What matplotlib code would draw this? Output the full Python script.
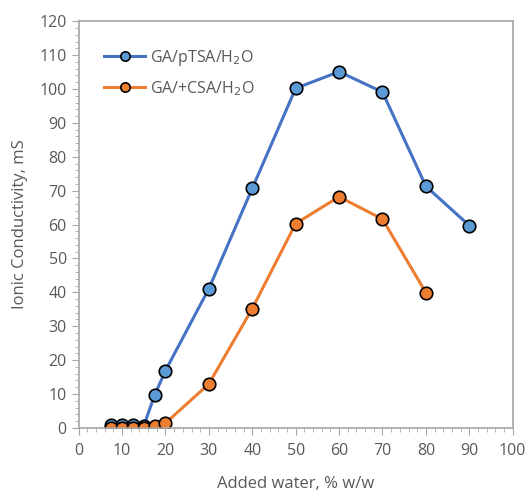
import matplotlib.pyplot as plt
from matplotlib.ticker import MultipleLocator

plt.rcParams['font.family'] = ['Open Sans', 'DejaVu Sans']

# data
water_ptsa = [7.5, 10, 12.5, 15, 17.5, 20, 30, 40, 50, 60, 70, 80, 90]
cond_ptsa = [0.8, 0.8, 0.9, 0.6, 9.7, 16.9, 41.1, 70.7, 100.2, 105.1, 99.1, 71.3, 59.7]

water_csa = [7.5, 10, 12.5, 15, 17.5, 20, 30, 40, 50, 60, 70, 80]
cond_csa = [0.1, 0.1, 0.1, 0.1, 0.6, 1.4, 13.0, 35.2, 60.3, 68.2, 61.6, 39.9]

xticks = list(range(0, 101, 10))
yticks = list(range(0, 121, 10))

txt = '#595959'
grey = '#a6a6a6'

fig = plt.figure(figsize=(5.28, 4.93), dpi=100)
ax = fig.add_axes([0.149, 0.132, 0.822, 0.825])

ax.plot(water_ptsa, cond_ptsa, '-o', color='#4472C4', lw=2.2,
        mfc='#5B9BD5', mec='black', mew=1.2, ms=9, label='GA/pTSA/H$_2$O')
ax.plot(water_csa, cond_csa, '-o', color='#ED7D31', lw=2.2,
        mfc='#ED7D31', mec='black', mew=1.2, ms=9, label='GA/+CSA/H$_2$O')

ax.set_xlim(0, 100)
ax.set_ylim(0, 120)
ax.set_xticks(xticks)
ax.set_yticks(yticks)
ax.xaxis.set_minor_locator(MultipleLocator(2))
ax.yaxis.set_minor_locator(MultipleLocator(2))
ax.tick_params(which='major', length=5, color=grey, labelcolor=txt, labelsize=11.5)
ax.tick_params(axis='x', which='major', pad=6)
ax.tick_params(which='minor', length=3, color=grey)
for s in ax.spines.values():
    s.set_color(grey)
    s.set_linewidth(1.2)

ax.set_xlabel('Added water, % w/w', color=txt, fontsize=12, labelpad=12)
ax.set_ylabel('Ionic Conductivity, mS', color=txt, fontsize=12, labelpad=8)

leg = ax.legend(loc='upper left', frameon=False, fontsize=11.5, markerscale=0.75,
                handlelength=2.6, handletextpad=0.3,
                bbox_to_anchor=(0.025, 0.97), labelspacing=0.7)
for t in leg.get_texts():
    t.set_color(txt)

fig.savefig('out.png', dpi=100)
